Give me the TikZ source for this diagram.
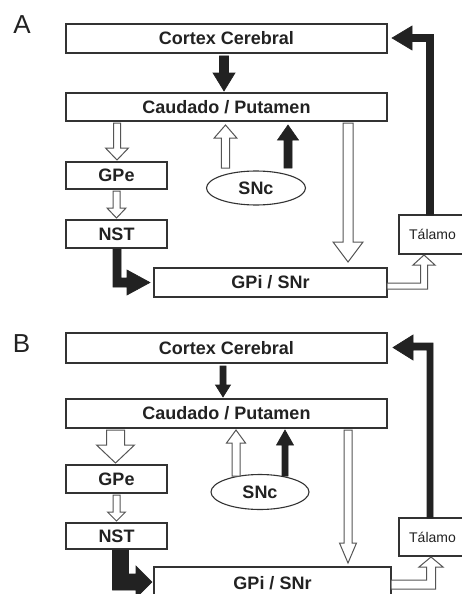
\documentclass[tikz,border=0pt]{standalone}
\usepackage{fontspec}
\setmainfont{Liberation Sans}
\usetikzlibrary{shapes.geometric}
\definecolor{edge}{HTML}{333333}
\definecolor{ink}{HTML}{222222}
\definecolor{openedge}{HTML}{555555}
\tikzset{
  box/.style={draw=edge, line width=1.1pt, inner sep=0pt, fill=white,
    font=\bfseries\fontsize{18}{20}\selectfont, text=ink},
  oval/.style={ellipse, draw=edge, line width=1.1pt, inner sep=0pt,
    font=\bfseries\fontsize{18}{20}\selectfont, text=ink},
  talbox/.style={draw=edge, line width=1.1pt, inner sep=0pt,
    font=\fontsize{14}{16}\selectfont, text=ink},
  panel/.style={font=\fontsize{26}{28}\selectfont, inner sep=0pt, text=ink},
  solidarrow/.style={fill=ink, draw=ink, line width=0.6pt, line join=miter},
  openarrow/.style={fill=white, draw=openedge, line width=1pt, line join=miter}
}
% vertical block arrow: style, x, y-start, y-headbase, y-tip, shaft half, head half
\newcommand{\vblk}[7]{%
  \draw[#1] ({#2-#6},#3) -- ({#2-#6},#4) -- ({#2-#7},#4) -- (#2,#5)
    -- ({#2+#7},#4) -- ({#2+#6},#4) -- ({#2+#6},#3) -- cycle;}
\begin{document}
\begin{tikzpicture}[x=1pt,y=-1pt]
\useasboundingbox (0,0) rectangle (462,594);
\clip (0,0) rectangle (462,594);
\fill[white] (0,0) rectangle (462,594);

% ---------------- Panel A ----------------
\node[panel] (labA) at (22,24.5) {A};
\node[box, minimum width=321pt, minimum height=29pt] (cortexA) at (226.5,38.5) {Cortex Cerebral};
\node[box, minimum width=321pt, minimum height=28pt] (caudA) at (226.5,107) {Caudado / Putamen};
\node[box, minimum width=101pt, minimum height=27pt] (gpeA) at (116.5,175.5) {GPe};
\node[box, minimum width=101pt, minimum height=28pt] (nstA) at (116.5,234) {NST};
\node[oval, minimum width=99pt, minimum height=34pt] (sncA) at (256,188) {SNc};
\node[box, minimum width=233pt, minimum height=29pt] (gpiA) at (270.5,282.5) {GPi / SNr};
\node[talbox, minimum width=67pt, minimum height=39pt] (talA) at (432.5,234.5) {Tálamo};

% arrows A
\vblk{solidarrow}{224}{56}{73}{91}{4.5}{11}
\vblk{openarrow}{117}{123}{148}{160}{3.5}{11.5}
\vblk{openarrow}{225.5}{168}{138}{125}{4.2}{11.3}
\vblk{solidarrow}{288}{168}{140}{125}{4}{10.5}
\vblk{openarrow}{348}{123}{242}{262}{5}{15}
\vblk{openarrow}{116.5}{191}{208}{218}{3.5}{9.5}
% NST -> GPi
\draw[solidarrow] (113,249) -- (113,287) -- (127,287) -- (127,295) -- (150,282.5)
  -- (127,270) -- (127,278) -- (121,278) -- (121,249) -- cycle;
% GPi -> Talamo
\draw[openarrow] (387,283) -- (420.5,283) -- (420.5,265) -- (413,265) -- (424,255)
  -- (435,265) -- (427.5,265) -- (427.5,289) -- (387,289) -- cycle;
% Talamo -> Cortex
\draw[solidarrow] (426.5,215) -- (426.5,41.5) -- (412,41.5) -- (412,50) -- (392,38)
  -- (412,26) -- (412,34.5) -- (433.5,34.5) -- (433.5,215) -- cycle;

% ---------------- Panel B ----------------
\node[panel] (labB) at (21.5,344) {B};
\node[box, minimum width=321pt, minimum height=30pt] (cortexB) at (226.5,348) {Cortex Cerebral};
\node[box, minimum width=321pt, minimum height=29pt] (caudB) at (226.5,413.5) {Caudado / Putamen};
\node[box, minimum width=101pt, minimum height=28pt] (gpeB) at (116.5,479) {GPe};
\node[box, minimum width=101pt, minimum height=26pt] (nstB) at (116.5,536) {NST};
\node[oval, minimum width=98pt, minimum height=35pt] (sncB) at (260,492) {SNc};
\node[talbox, minimum width=67pt, minimum height=38pt] (talB) at (432.5,537) {Tálamo};
\draw[edge, line width=1.1pt] (154,604) -- (154,567) -- (391,567) -- (391,604);
\node[font=\bfseries\fontsize{18}{20}\selectfont, text=ink, inner sep=0pt] (gpiB) at (272.5,583) {GPi / SNr};

% arrows B
\vblk{solidarrow}{223}{366}{385}{397}{3}{7.5}
\vblk{openarrow}{115.5}{430}{445}{463}{9}{19}
\vblk{openarrow}{236}{476}{443}{430}{4}{9.5}
\vblk{solidarrow}{285}{476}{445}{430}{3}{8.5}
\vblk{openarrow}{348}{430}{543}{563}{4}{8.5}
\vblk{openarrow}{116.5}{495}{512}{521}{3.5}{9}
% NST -> GPi
\draw[solidarrow] (112.5,550) -- (112.5,590) -- (136,590) -- (136,598) -- (152,582)
  -- (136,566) -- (136,574) -- (128.5,574) -- (128.5,550) -- cycle;
% GPi -> Talamo
\draw[openarrow] (391,580) -- (426.5,580) -- (426.5,567) -- (419,567) -- (431,557)
  -- (443,567) -- (435.5,567) -- (435.5,589) -- (391,589) -- cycle;
% Talamo -> Cortex
\draw[solidarrow] (427,518) -- (427,350) -- (413,350) -- (413,360) -- (393,347.5)
  -- (413,335) -- (413,343) -- (433,343) -- (433,518) -- cycle;
\end{tikzpicture}
\end{document}
